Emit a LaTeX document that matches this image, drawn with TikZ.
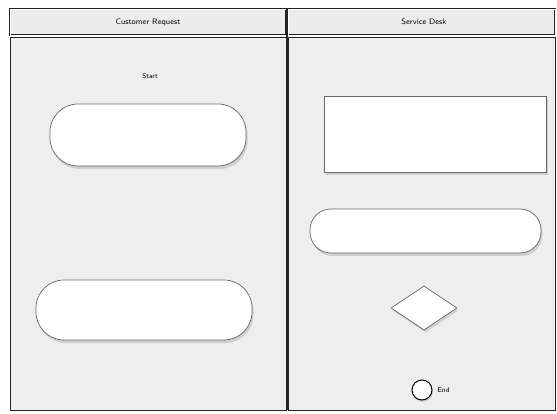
\documentclass[tikz,border=0pt]{standalone}
\usetikzlibrary{shapes.geometric,shadows}
\definecolor{lanebg}{HTML}{EEEEEE}
\definecolor{headbg}{HTML}{ECECEC}
\definecolor{edge}{HTML}{222222}
\tikzset{
  lanebox/.style={draw=edge, line width=0.8pt, fill=lanebg},
  headbox/.style={draw=edge, line width=0.8pt, fill=headbg, double=white, double distance=0.6pt},
  headtext/.style={font=\footnotesize\sffamily, text=black},
  stadium/.style={draw=gray!80!black, line width=0.7pt, fill=white, rounded corners=28pt,
    drop shadow={shadow xshift=1.5pt, shadow yshift=-3pt, fill=gray!60}},
  boxshape/.style={draw=gray!80!black, line width=0.7pt, fill=white,
    drop shadow={shadow xshift=1.5pt, shadow yshift=-3pt, fill=gray!60}},
  decision/.style={diamond, draw=gray!80!black, fill=white, line width=0.7pt, minimum width=66pt, minimum height=44pt, inner sep=0pt, aspect=1.5,
    drop shadow={shadow xshift=1.5pt, shadow yshift=-2.5pt, fill=gray!60}},
  endnode/.style={circle, draw=black, line width=1pt, fill=white, minimum size=20pt, inner sep=0pt,
    drop shadow={shadow xshift=1pt, shadow yshift=-2pt, fill=gray!60}},
  smalltext/.style={font=\scriptsize\sffamily, text=black}
}
\begin{document}
\begin{tikzpicture}[x=1pt, y=-1pt]
\useasboundingbox (0,0) rectangle (557,414);
\fill[white] (0,0) rectangle (557,414);
% lanes
\draw[lanebox] (10,37) rectangle (286,410);
\draw[lanebox] (288,37) rectangle (555,410);
% headers
\draw[headbox] (10,9) rectangle (286,35);
\draw[headbox] (288,9) rectangle (555,35);
\draw[line width=1.6pt, edge] (287,9) -- (287,410);
\node[headtext] (h1) at (148,22) {Customer Request};
\node[headtext] (h2) at (424,22) {Service Desk};
% left lane
\node[smalltext] (start) at (150,76) {Start};
\draw[stadium] (50,104) rectangle (246,166);
\node (a1) at (148,135) {};
\draw[stadium] (36,280) rectangle (252,340);
\node (a2) at (144,310) {};
% right lane
\draw[boxshape] (324,96) rectangle (546,172);
\node (b1) at (435,134) {};
\draw[stadium, rounded corners=21pt] (310,209) rectangle (541,253);
\node (b2) at (425,231) {};
\node[decision] (d) at (424,308) {};
\node[endnode] (e) at (422,390) {};
\node[smalltext, anchor=west] (elabel) at (434,390) {End};
\end{tikzpicture}
\end{document}
